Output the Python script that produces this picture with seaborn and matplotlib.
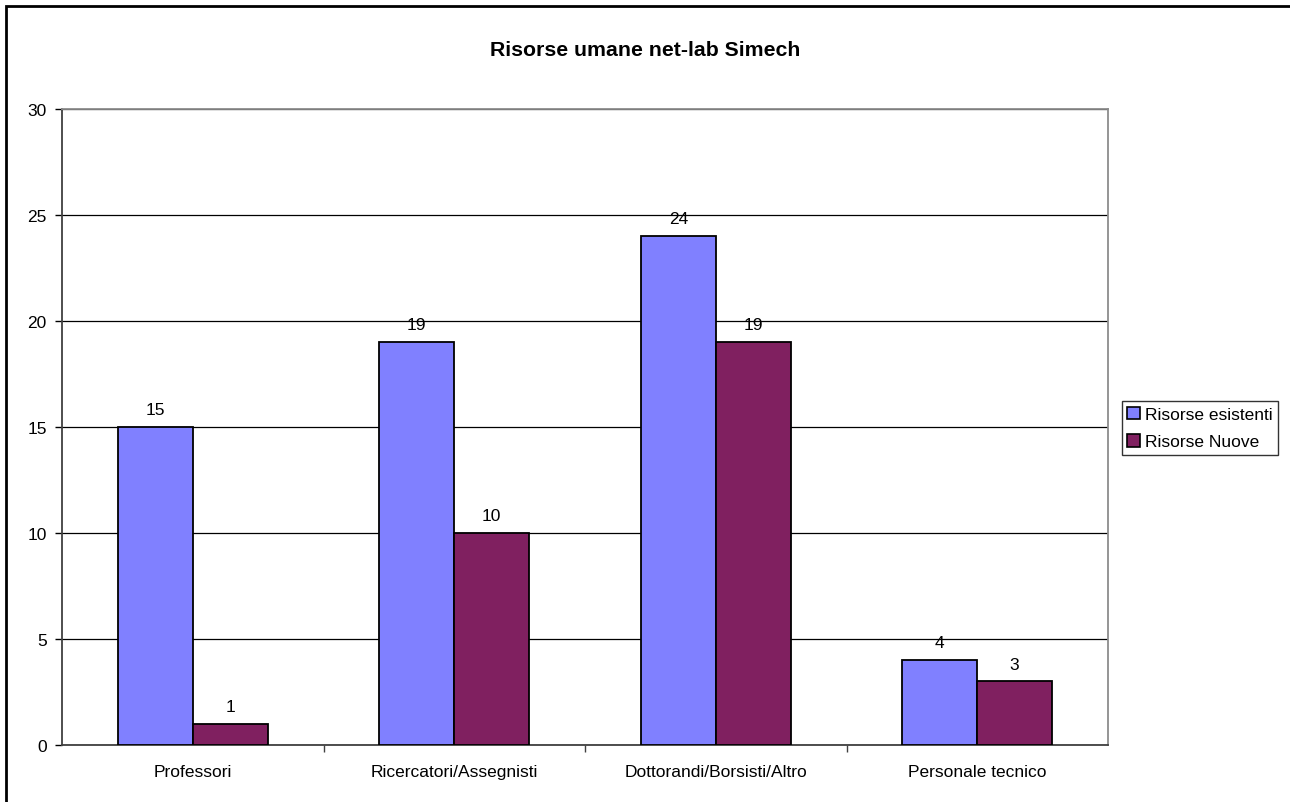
import matplotlib
matplotlib.use("Agg")
import matplotlib.pyplot as plt
from matplotlib.patches import Rectangle, Patch
from matplotlib.ticker import FixedLocator
import seaborn as sns
import pandas as pd

categories = ["Professori", "Ricercatori/Assegnisti", "Dottorandi/Borsisti/Altro", "Personale tecnico"]
series_names = ["Risorse esistenti", "Risorse Nuove"]
esistenti = [15, 19, 24, 4]
nuove = [1, 10, 19, 3]
y_ticks = [0, 5, 10, 15, 20, 25, 30]
colors = ["#8080FF", "#802060"]

df = pd.DataFrame({
    "categoria": categories * 2,
    "serie": [series_names[0]] * len(categories) + [series_names[1]] * len(categories),
    "valore": esistenti + nuove,
})

sns.set_theme(style="white")
plt.rcParams["font.family"] = ["Liberation Sans", "DejaVu Sans"]
plt.rcParams["text.color"] = "black"
plt.rcParams["xtick.color"] = "black"
plt.rcParams["ytick.color"] = "black"
plt.rcParams["axes.labelcolor"] = "black"

fig = plt.figure(figsize=(12.9, 8.03), dpi=100)
ax = fig.add_axes([62 / 1290, 1 - 746 / 803, (1108 - 62) / 1290, (746 - 110) / 803])

sns.barplot(data=df, x="categoria", y="valore", hue="serie", order=categories,
            hue_order=series_names, palette=colors, width=0.572, dodge=True,
            edgecolor="black", linewidth=1.3, saturation=1, ax=ax, legend=False,
            zorder=3)

fs = 12.5
ax.set_xlim(-0.5, len(categories) - 0.5)
ax.set_ylim(0, 30)
ax.set_yticks(y_ticks)
ax.set_yticklabels([str(v) for v in y_ticks], fontsize=fs)
ax.yaxis.grid(True, color="black", linewidth=0.9, zorder=0)
ax.set_axisbelow(True)
ax.tick_params(axis="y", direction="out", length=5, width=1, color="black", pad=6, left=True)
ax.tick_params(axis="x", which="major", length=0, pad=14, labelsize=fs)
ax.xaxis.set_minor_locator(FixedLocator([0.5, 1.5, 2.5]))
ax.tick_params(axis="x", which="minor", direction="out", length=5, width=1, color="#404040", bottom=True)
ax.set_xlabel("")
ax.set_ylabel("")

for side in ["left", "bottom"]:
    ax.spines[side].set_color("#404040")
    ax.spines[side].set_linewidth(1.3)
for side in ["top", "right"]:
    ax.spines[side].set_color("#8c8c8c")
    ax.spines[side].set_linewidth(1.3)

for container in ax.containers:
    ax.bar_label(container, fmt="%d", padding=7, fontsize=fs, color="black")

fig.text(0.5, 1 - 50 / 803, "Risorse umane net-lab Simech", ha="center", va="center",
         fontsize=15.3, fontweight="bold", color="black")

handles = [Patch(facecolor=c, edgecolor="black", linewidth=1.2) for c in colors]
leg = fig.legend(handles, series_names, loc="center left",
                 bbox_to_anchor=(1122 / 1290, 1 - 429 / 803), fontsize=fs,
                 frameon=True, fancybox=False, edgecolor="black", handlelength=0.75,
                 handleheight=0.75, handletextpad=0.3, borderpad=0.3, labelspacing=0.68,
                 borderaxespad=0)
leg.get_frame().set_linewidth(1.0)
for t in leg.get_texts():
    t.set_color("black")

fig.patches.append(Rectangle((6 / 1290, -0.05), 1.2, 1 - 7 / 803 + 0.05,
                             transform=fig.transFigure, fill=False,
                             edgecolor="black", linewidth=2, zorder=10))

fig.savefig("out.png", dpi=100, facecolor="white")
